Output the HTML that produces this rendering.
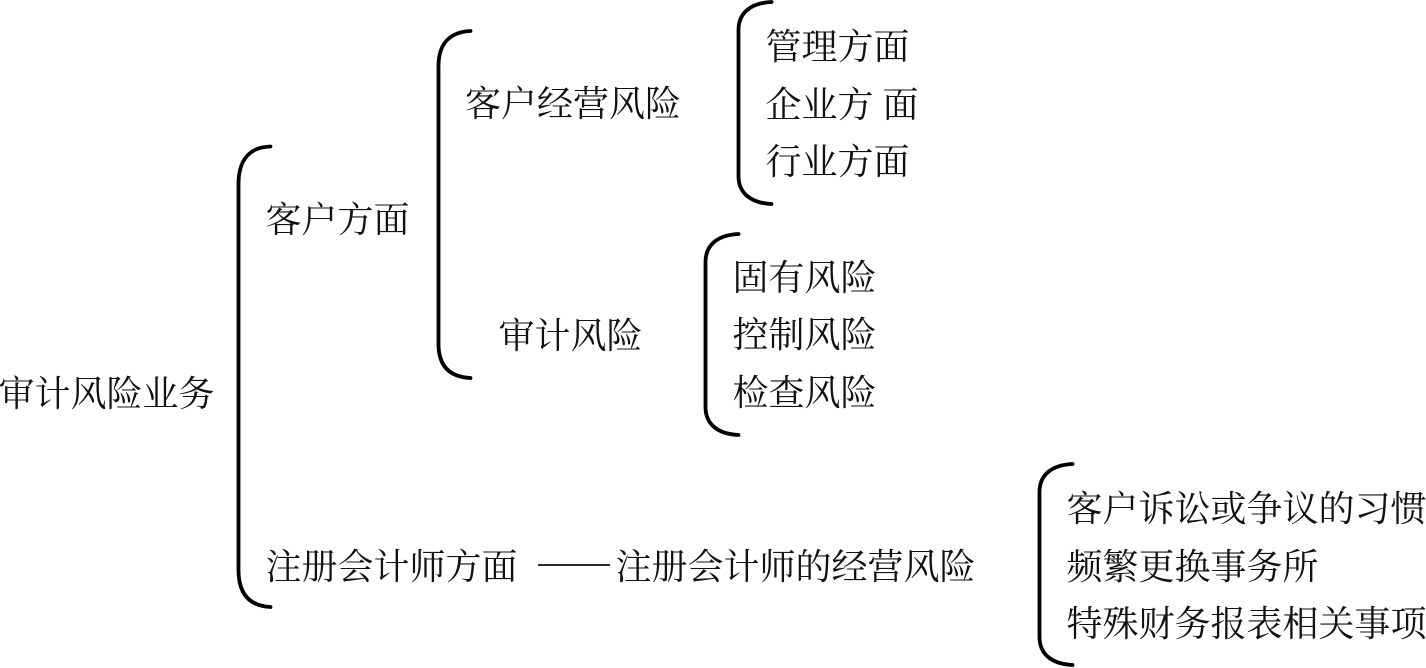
<!DOCTYPE html>
<html lang="zh">
<head>
<meta charset="utf-8">
<style>
html,body{margin:0;padding:0;background:#fff;width:1426px;height:668px;overflow:hidden}
svg{display:block}
text{font-family:"Liberation Serif","Noto Serif CJK SC",serif;font-size:36px;fill:#111}
path{fill:none;stroke:#000;stroke-width:3.8px;stroke-linecap:round}
</style>
</head>
<body>
<svg width="1426" height="668" viewBox="0 0 1426 668" xmlns="http://www.w3.org/2000/svg">
<g transform="translate(-0.5 0)">
<path d="M271 146.500 C250 147 239 160 239 184 L239 570 C239 594 250 606 271 607"/>
<path d="M471 31 C450 32 439 44 439 66 L439 344 C439 366 450 377 471 378"/>
<path d="M772 2 C751 3 739 13 739 30 L739 176 C739 193 751 203 772 204"/>
<path d="M739 234 C718 235 706 245 706 262 L706 407 C706 424 718 434 739 435"/>
<path d="M1073 464 C1052 465 1040 475 1040 492 L1040 637 C1040 654 1052 664 1073 665"/>
</g>
<g transform="translate(-0.5 -1)">
<text x="-1" y="407">审计风险业务</text>
<text x="266" y="233">客户方面</text>
<text x="465.500" y="117">客户经营风险</text>
<text x="499" y="349">审计风险</text>
<text x="766" y="60">管理方面</text>
<text x="766" y="118">企业方</text>
<text x="883" y="118">面</text>
<text x="766" y="175">行业方面</text>
<text x="733" y="291">固有风险</text>
<text x="733" y="348">控制风险</text>
<text x="733" y="406">检查风险</text>
<text x="266" y="580">注册会计师方面</text>
<line x1="538.500" y1="566" x2="610.500" y2="566" stroke="#111" stroke-width="1.800"/>
<text x="616" y="580">注册会计师的经营风险</text>
<text x="1067" y="522">客户诉讼或争议的习惯</text>
<text x="1067" y="580">频繁更换事务所</text>
<text x="1067" y="637">特殊财务报表相关事项</text>
</g>
</svg>
</body>
</html>
